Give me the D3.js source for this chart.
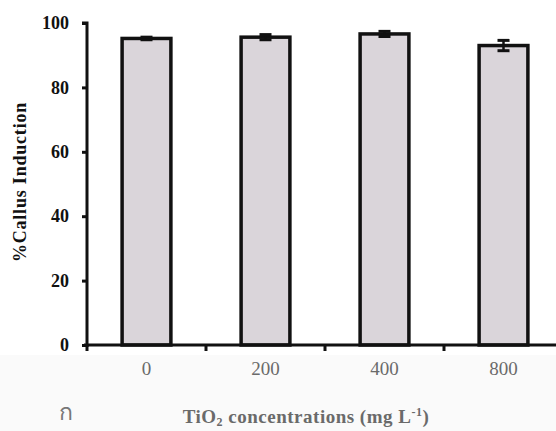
<!DOCTYPE html>
<html><head><meta charset="utf-8">
<script src="https://cdn.jsdelivr.net/npm/d3@7"></script>
<style>body{margin:0;background:#fff}</style>
</head><body>
<svg id="c" width="556" height="431"></svg>
<script>
const categories = ["0","200","400","800"];
const values = [95.2, 95.6, 96.6, 93.0];
const errors = [0.4, 0.8, 0.8, 1.6];
const yTicks = [0,20,40,60,80,100];

const SERIF = '"Liberation Serif"';
const svg = d3.select("#c");
const x0 = 87, x1 = 563, yTop = 23, yBot = 345;
const x = d3.scaleBand().domain(categories).range([x0, x1]).paddingInner(0.59).paddingOuter(0.295);
const y = d3.scaleLinear().domain([0,100]).range([yBot, yTop]);

svg.append("rect").attr("x",0).attr("y",355).attr("width",556).attr("height",76).attr("fill","#fafafa");

// bars
svg.selectAll("rect.bar").data(values).join("rect").attr("class","bar")
  .attr("x",(d,i)=>x(categories[i])).attr("width",x.bandwidth())
  .attr("y",d=>y(d)).attr("height",d=>y(0)-y(d))
  .attr("fill","#dad5da").attr("stroke","#111").attr("stroke-width",3.5);

// error bars
const cx = i => x(categories[i])+x.bandwidth()/2;
const eg = svg.selectAll("g.err").data(values).join("g").attr("class","err");
eg.append("line")
  .attr("x1",(d,i)=>cx(i)).attr("x2",(d,i)=>cx(i))
  .attr("y1",(d,i)=>y(d+errors[i])).attr("y2",(d,i)=>y(d-errors[i]))
  .attr("stroke","#111").attr("stroke-width",2.5);
eg.append("line")
  .attr("x1",(d,i)=>cx(i)-6).attr("x2",(d,i)=>cx(i)+6)
  .attr("y1",(d,i)=>y(d+errors[i])).attr("y2",(d,i)=>y(d+errors[i]))
  .attr("stroke","#111").attr("stroke-width",3);
eg.append("line")
  .attr("x1",(d,i)=>cx(i)-6).attr("x2",(d,i)=>cx(i)+6)
  .attr("y1",(d,i)=>y(d-errors[i])).attr("y2",(d,i)=>y(d-errors[i]))
  .attr("stroke","#111").attr("stroke-width",3);

// y axis
const ya = svg.append("g").attr("transform",`translate(${x0},0)`)
  .call(d3.axisLeft(y).tickValues(yTicks).tickSize(5).tickPadding(13));
ya.select(".domain").attr("d",`M-5,${yTop}H0V${yBot+2}`).attr("stroke","#111").attr("stroke-width",3).attr("fill","none");
ya.selectAll(".tick line").attr("stroke","#111").attr("stroke-width",3);
ya.selectAll(".tick text").style("font-family",SERIF).attr("font-weight","bold").attr("font-size",18).attr("fill","#111");

// x axis
const xa = svg.append("g").attr("transform",`translate(0,${yBot})`)
  .call(d3.axisBottom(x).tickSize(0).tickPadding(17));
xa.select(".domain").attr("d",`M${x0-3},0H556`).attr("stroke","#111").attr("stroke-width",3);
xa.selectAll(".tick text").style("font-family",SERIF).attr("font-size",19).attr("fill","#6a6a6a");
const bounds = [x0].concat(categories.slice(1).map(c=>x(c)-x.step()*x.paddingInner()/2));
xa.selectAll("line.b").data(bounds).join("line").attr("class","b")
  .attr("x1",d=>d).attr("x2",d=>d).attr("y1",0).attr("y2",6)
  .attr("stroke","#111").attr("stroke-width",3);

// y title
svg.append("text").attr("transform","translate(26,182) rotate(-90)")
  .attr("text-anchor","middle").attr("font-weight","bold").style("font-family",SERIF)
  .attr("font-size",18).attr("letter-spacing",0.8).attr("fill","#111").text("%Callus Induction");

// x title
const xt = svg.append("text").attr("x",306).attr("y",423).attr("text-anchor","middle")
  .style("font-family",SERIF).attr("font-weight","bold").attr("font-size",19)
  .attr("letter-spacing",0.5).attr("fill","#6a6a6a");
xt.append("tspan").text("TiO");
xt.append("tspan").attr("font-size",12).attr("dy",3).text("2");
xt.append("tspan").attr("dy",-3).text(" concentrations (mg L");
xt.append("tspan").attr("font-size",12).attr("dy",-7).text("-1");
xt.append("tspan").attr("dy",7).text(")");

svg.append("text").attr("x",66).attr("y",420).attr("text-anchor","middle")
  .style("font-family","'Noto Sans','DejaVu Sans',sans-serif").attr("font-size",23).attr("fill","#777").text("ก");
</script>
</body></html>
